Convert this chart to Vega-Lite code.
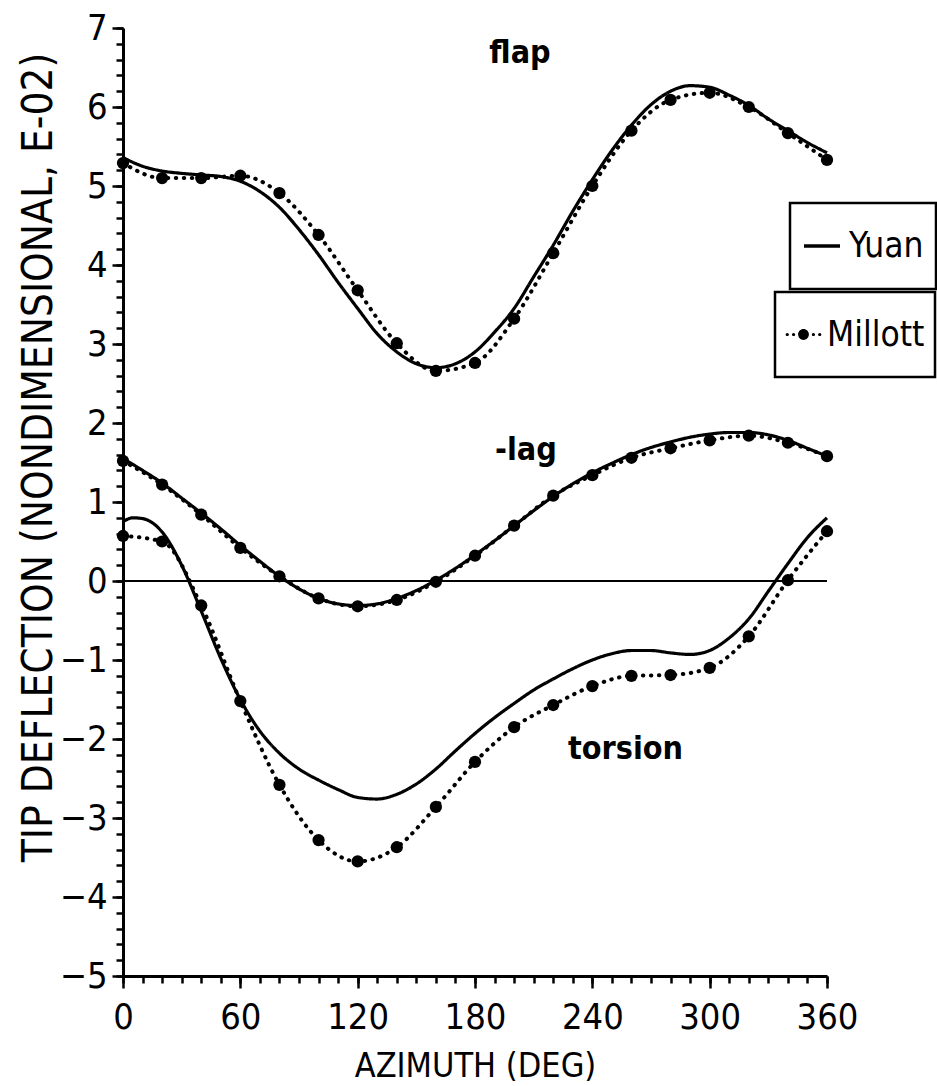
{
  "$schema": "https://vega.github.io/schema/vega-lite/v6.json",
  "width": 704,
  "height": 948,
  "autosize": "none",
  "padding": {"left": 123, "top": 28, "right": 110, "bottom": 110},
  "background": "white",
  "config": {
    "view": {"stroke": null},
    "font": "DejaVu Sans Condensed, Liberation Sans, sans-serif",
    "axis": {
      "grid": false,
      "domainColor": "black",
      "domainWidth": 3,
      "tickColor": "black",
      "tickWidth": 2.5,
      "labelColor": "black",
      "titleColor": "black",
      "labelFont": "DejaVu Sans Condensed, Liberation Sans, sans-serif",
      "titleFont": "DejaVu Sans Condensed, Liberation Sans, sans-serif",
      "labelFontSize": 36,
      "titleFontSize": 34,
      "titleFontWeight": "normal"
    },
    "legend": {
      "labelFont": "DejaVu Sans Condensed, Liberation Sans, sans-serif",
      "labelColor": "black",
      "labelFontSize": 35
    }
  },
  "datasets": {
    "curves": [
      {"s":"Yuan","c":"flap","az":0,"v":5.36},{"s":"Yuan","c":"flap","az":10,"v":5.25},{"s":"Yuan","c":"flap","az":20,"v":5.19},{"s":"Yuan","c":"flap","az":30,"v":5.16},{"s":"Yuan","c":"flap","az":40,"v":5.14},{"s":"Yuan","c":"flap","az":50,"v":5.12},{"s":"Yuan","c":"flap","az":60,"v":5.06},{"s":"Yuan","c":"flap","az":70,"v":4.93},{"s":"Yuan","c":"flap","az":80,"v":4.73},{"s":"Yuan","c":"flap","az":90,"v":4.45},{"s":"Yuan","c":"flap","az":100,"v":4.13},{"s":"Yuan","c":"flap","az":110,"v":3.78},{"s":"Yuan","c":"flap","az":120,"v":3.45},{"s":"Yuan","c":"flap","az":130,"v":3.13},{"s":"Yuan","c":"flap","az":140,"v":2.9},{"s":"Yuan","c":"flap","az":150,"v":2.75},{"s":"Yuan","c":"flap","az":160,"v":2.7},{"s":"Yuan","c":"flap","az":170,"v":2.75},{"s":"Yuan","c":"flap","az":180,"v":2.9},{"s":"Yuan","c":"flap","az":190,"v":3.15},{"s":"Yuan","c":"flap","az":200,"v":3.45},{"s":"Yuan","c":"flap","az":210,"v":3.85},{"s":"Yuan","c":"flap","az":220,"v":4.25},{"s":"Yuan","c":"flap","az":230,"v":4.68},{"s":"Yuan","c":"flap","az":240,"v":5.08},{"s":"Yuan","c":"flap","az":250,"v":5.45},{"s":"Yuan","c":"flap","az":260,"v":5.77},{"s":"Yuan","c":"flap","az":270,"v":6.03},{"s":"Yuan","c":"flap","az":280,"v":6.2},{"s":"Yuan","c":"flap","az":290,"v":6.27},{"s":"Yuan","c":"flap","az":300,"v":6.25},{"s":"Yuan","c":"flap","az":310,"v":6.15},{"s":"Yuan","c":"flap","az":320,"v":6.02},{"s":"Yuan","c":"flap","az":330,"v":5.85},{"s":"Yuan","c":"flap","az":340,"v":5.7},{"s":"Yuan","c":"flap","az":350,"v":5.55},{"s":"Yuan","c":"flap","az":360,"v":5.42},
      {"s":"Yuan","c":"lag","az":0,"v":1.55},{"s":"Yuan","c":"lag","az":10,"v":1.4},{"s":"Yuan","c":"lag","az":20,"v":1.24},{"s":"Yuan","c":"lag","az":30,"v":1.05},{"s":"Yuan","c":"lag","az":40,"v":0.86},{"s":"Yuan","c":"lag","az":50,"v":0.66},{"s":"Yuan","c":"lag","az":60,"v":0.45},{"s":"Yuan","c":"lag","az":70,"v":0.25},{"s":"Yuan","c":"lag","az":80,"v":0.06},{"s":"Yuan","c":"lag","az":90,"v":-0.1},{"s":"Yuan","c":"lag","az":100,"v":-0.22},{"s":"Yuan","c":"lag","az":110,"v":-0.29},{"s":"Yuan","c":"lag","az":120,"v":-0.31},{"s":"Yuan","c":"lag","az":130,"v":-0.29},{"s":"Yuan","c":"lag","az":140,"v":-0.22},{"s":"Yuan","c":"lag","az":150,"v":-0.12},{"s":"Yuan","c":"lag","az":160,"v":0.01},{"s":"Yuan","c":"lag","az":170,"v":0.16},{"s":"Yuan","c":"lag","az":180,"v":0.33},{"s":"Yuan","c":"lag","az":190,"v":0.51},{"s":"Yuan","c":"lag","az":200,"v":0.7},{"s":"Yuan","c":"lag","az":210,"v":0.89},{"s":"Yuan","c":"lag","az":220,"v":1.07},{"s":"Yuan","c":"lag","az":230,"v":1.23},{"s":"Yuan","c":"lag","az":240,"v":1.37},{"s":"Yuan","c":"lag","az":250,"v":1.49},{"s":"Yuan","c":"lag","az":260,"v":1.6},{"s":"Yuan","c":"lag","az":270,"v":1.69},{"s":"Yuan","c":"lag","az":280,"v":1.76},{"s":"Yuan","c":"lag","az":290,"v":1.82},{"s":"Yuan","c":"lag","az":300,"v":1.86},{"s":"Yuan","c":"lag","az":310,"v":1.88},{"s":"Yuan","c":"lag","az":320,"v":1.88},{"s":"Yuan","c":"lag","az":330,"v":1.85},{"s":"Yuan","c":"lag","az":340,"v":1.78},{"s":"Yuan","c":"lag","az":350,"v":1.68},{"s":"Yuan","c":"lag","az":360,"v":1.58},
      {"s":"Yuan","c":"torsion","az":0,"v":0.75},{"s":"Yuan","c":"torsion","az":5,"v":0.8},{"s":"Yuan","c":"torsion","az":10,"v":0.79},{"s":"Yuan","c":"torsion","az":20,"v":0.62},{"s":"Yuan","c":"torsion","az":30,"v":0.2},{"s":"Yuan","c":"torsion","az":40,"v":-0.38},{"s":"Yuan","c":"torsion","az":50,"v":-0.98},{"s":"Yuan","c":"torsion","az":60,"v":-1.5},{"s":"Yuan","c":"torsion","az":70,"v":-1.9},{"s":"Yuan","c":"torsion","az":80,"v":-2.18},{"s":"Yuan","c":"torsion","az":90,"v":-2.38},{"s":"Yuan","c":"torsion","az":100,"v":-2.52},{"s":"Yuan","c":"torsion","az":110,"v":-2.64},{"s":"Yuan","c":"torsion","az":120,"v":-2.74},{"s":"Yuan","c":"torsion","az":130,"v":-2.76},{"s":"Yuan","c":"torsion","az":140,"v":-2.7},{"s":"Yuan","c":"torsion","az":150,"v":-2.57},{"s":"Yuan","c":"torsion","az":160,"v":-2.38},{"s":"Yuan","c":"torsion","az":170,"v":-2.15},{"s":"Yuan","c":"torsion","az":180,"v":-1.93},{"s":"Yuan","c":"torsion","az":190,"v":-1.73},{"s":"Yuan","c":"torsion","az":200,"v":-1.55},{"s":"Yuan","c":"torsion","az":210,"v":-1.38},{"s":"Yuan","c":"torsion","az":220,"v":-1.24},{"s":"Yuan","c":"torsion","az":230,"v":-1.11},{"s":"Yuan","c":"torsion","az":240,"v":-1.0},{"s":"Yuan","c":"torsion","az":250,"v":-0.92},{"s":"Yuan","c":"torsion","az":260,"v":-0.88},{"s":"Yuan","c":"torsion","az":270,"v":-0.88},{"s":"Yuan","c":"torsion","az":280,"v":-0.91},{"s":"Yuan","c":"torsion","az":290,"v":-0.93},{"s":"Yuan","c":"torsion","az":300,"v":-0.88},{"s":"Yuan","c":"torsion","az":310,"v":-0.72},{"s":"Yuan","c":"torsion","az":320,"v":-0.48},{"s":"Yuan","c":"torsion","az":330,"v":-0.13},{"s":"Yuan","c":"torsion","az":340,"v":0.22},{"s":"Yuan","c":"torsion","az":350,"v":0.55},{"s":"Yuan","c":"torsion","az":360,"v":0.8},
      {"s":"Millott","c":"flap","az":0,"v":5.29},{"s":"Millott","c":"flap","az":20,"v":5.1},{"s":"Millott","c":"flap","az":40,"v":5.1},{"s":"Millott","c":"flap","az":60,"v":5.13},{"s":"Millott","c":"flap","az":80,"v":4.91},{"s":"Millott","c":"flap","az":100,"v":4.38},{"s":"Millott","c":"flap","az":120,"v":3.68},{"s":"Millott","c":"flap","az":140,"v":3.01},{"s":"Millott","c":"flap","az":160,"v":2.66},{"s":"Millott","c":"flap","az":180,"v":2.76},{"s":"Millott","c":"flap","az":200,"v":3.32},{"s":"Millott","c":"flap","az":220,"v":4.15},{"s":"Millott","c":"flap","az":240,"v":5.0},{"s":"Millott","c":"flap","az":260,"v":5.7},{"s":"Millott","c":"flap","az":280,"v":6.09},{"s":"Millott","c":"flap","az":300,"v":6.18},{"s":"Millott","c":"flap","az":320,"v":6.0},{"s":"Millott","c":"flap","az":340,"v":5.67},{"s":"Millott","c":"flap","az":360,"v":5.33},
      {"s":"Millott","c":"lag","az":0,"v":1.52},{"s":"Millott","c":"lag","az":20,"v":1.22},{"s":"Millott","c":"lag","az":40,"v":0.84},{"s":"Millott","c":"lag","az":60,"v":0.42},{"s":"Millott","c":"lag","az":80,"v":0.06},{"s":"Millott","c":"lag","az":100,"v":-0.22},{"s":"Millott","c":"lag","az":120,"v":-0.32},{"s":"Millott","c":"lag","az":140,"v":-0.24},{"s":"Millott","c":"lag","az":160,"v":-0.01},{"s":"Millott","c":"lag","az":180,"v":0.32},{"s":"Millott","c":"lag","az":200,"v":0.7},{"s":"Millott","c":"lag","az":220,"v":1.08},{"s":"Millott","c":"lag","az":240,"v":1.34},{"s":"Millott","c":"lag","az":260,"v":1.56},{"s":"Millott","c":"lag","az":280,"v":1.68},{"s":"Millott","c":"lag","az":300,"v":1.78},{"s":"Millott","c":"lag","az":320,"v":1.84},{"s":"Millott","c":"lag","az":340,"v":1.75},{"s":"Millott","c":"lag","az":360,"v":1.58},
      {"s":"Millott","c":"torsion","az":0,"v":0.57},{"s":"Millott","c":"torsion","az":20,"v":0.5},{"s":"Millott","c":"torsion","az":40,"v":-0.31},{"s":"Millott","c":"torsion","az":60,"v":-1.52},{"s":"Millott","c":"torsion","az":80,"v":-2.58},{"s":"Millott","c":"torsion","az":100,"v":-3.28},{"s":"Millott","c":"torsion","az":120,"v":-3.55},{"s":"Millott","c":"torsion","az":140,"v":-3.37},{"s":"Millott","c":"torsion","az":160,"v":-2.86},{"s":"Millott","c":"torsion","az":180,"v":-2.29},{"s":"Millott","c":"torsion","az":200,"v":-1.85},{"s":"Millott","c":"torsion","az":220,"v":-1.57},{"s":"Millott","c":"torsion","az":240,"v":-1.33},{"s":"Millott","c":"torsion","az":260,"v":-1.2},{"s":"Millott","c":"torsion","az":280,"v":-1.19},{"s":"Millott","c":"torsion","az":300,"v":-1.1},{"s":"Millott","c":"torsion","az":320,"v":-0.7},{"s":"Millott","c":"torsion","az":340,"v":0.01},{"s":"Millott","c":"torsion","az":360,"v":0.63}
    ],
    "zero": [{"a": 0, "b": 360, "v": 0}],
    "labels": [
      {"t": "flap", "az": 203, "v": 6.68},
      {"t": "-lag", "az": 206, "v": 1.66},
      {"t": "torsion", "az": 257, "v": -2.13}
    ]
  },
  "layer": [
    {
      "data": {"name": "zero"},
      "mark": {"type": "rule", "color": "black", "strokeWidth": 2},
      "encoding": {
        "x": {"field": "a", "type": "quantitative", "scale": {"domain": [0, 360], "nice": false},
          "axis": {"orient": "bottom", "values": [0,10,20,30,40,50,60,70,80,90,100,110,120,130,140,150,160,170,180,190,200,210,220,230,240,250,260,270,280,290,300,310,320,330,340,350,360], "labels": false, "tickSize": 7, "title": null, "domain": false}},
        "x2": {"field": "b"},
        "y": {"field": "v", "type": "quantitative", "scale": {"domain": [-5, 7], "nice": false, "zero": false},
          "axis": {"orient": "left", "values": [-5,-4.8,-4.6,-4.4,-4.2,-4,-3.8,-3.6,-3.4,-3.2,-3,-2.8,-2.6,-2.4,-2.2,-2,-1.8,-1.6,-1.4,-1.2,-1,-0.8,-0.6,-0.4,-0.2,0,0.2,0.4,0.6,0.8,1,1.2,1.4,1.6,1.8,2,2.2,2.4,2.6,2.8,3,3.2,3.4,3.6,3.8,4,4.2,4.4,4.6,4.8,5,5.2,5.4,5.6,5.8,6,6.2,6.4,6.6,6.8,7], "labels": false, "tickSize": 7, "title": null, "domain": false}}
      }
    },
    {
      "data": {"name": "curves"},
      "transform": [{"filter": "datum.s === 'Yuan'"}],
      "mark": {"type": "line", "color": "black", "strokeWidth": 3.2, "interpolate": "monotone"},
      "encoding": {
        "x": {"field": "az", "type": "quantitative",
          "axis": {"orient": "bottom", "values": [0, 60, 120, 180, 240, 300, 360], "tickSize": 12, "labelPadding": 12, "labelFlush": false, "labelOverlap": false, "title": "AZIMUTH (DEG)", "titleFontSize": 34, "titleY": 100, "titleBaseline": "alphabetic"}},
        "y": {"field": "v", "type": "quantitative",
          "axis": {"orient": "left", "values": [-5,-4,-3,-2,-1,0,1,2,3,4,5,6,7], "tickSize": 11, "labelPadding": 5, "labelFlush": false, "labelOverlap": false, "title": "TIP DEFLECTION (NONDIMENSIONAL, E-02)", "titleFontSize": 42, "titleX": -85, "titleY": 429, "titleAngle": 270, "titleAlign": "center", "titleBaseline": "middle"}},
        "detail": {"field": "c"},
        "strokeDash": {"field": "s", "type": "nominal", "scale": {"domain": ["Yuan"], "range": [[1, 0]]},
          "legend": {"orient": "none", "legendX": 667, "legendY": 175, "title": null, "strokeColor": "black", "padding": 12, "clipHeight": 62, "symbolType": "stroke", "symbolSize": 1300, "symbolStrokeWidth": 3.5, "symbolStrokeColor": "black", "labelOffset": 7,
            "encode": {"legend": {"update": {"strokeWidth": {"value": 2.5}}}}}}
      }
    },
    {
      "data": {"name": "curves"},
      "transform": [{"filter": "datum.s === 'Millott'"}],
      "mark": {"type": "line", "color": "black", "strokeWidth": 4, "strokeDash": [0.5, 7.5], "strokeCap": "round", "interpolate": "monotone"},
      "encoding": {
        "x": {"field": "az", "type": "quantitative", "axis": null},
        "y": {"field": "v", "type": "quantitative", "axis": null},
        "detail": {"field": "c"}
      }
    },
    {
      "data": {"name": "curves"},
      "transform": [{"filter": "datum.s === 'Millott'"}],
      "mark": {"type": "point", "filled": true, "shape": "circle", "size": 150, "opacity": 1},
      "encoding": {
        "x": {"field": "az", "type": "quantitative", "axis": null},
        "y": {"field": "v", "type": "quantitative", "axis": null},
        "fill": {"field": "s", "type": "nominal", "scale": {"domain": ["Millott"], "range": ["black"]},
          "legend": {"orient": "none", "legendX": 652, "legendY": 264, "title": null, "strokeColor": "black", "padding": 10, "clipHeight": 65, "symbolSize": 1300, "symbolType": "M0.3,0A0.3,0.3,0,1,1,-0.3,0A0.3,0.3,0,1,1,0.3,0Z M-0.46,0A0.09,0.09,0,1,1,-0.64,0A0.09,0.09,0,1,1,-0.46,0Z M-0.81,0A0.09,0.09,0,1,1,-0.99,0A0.09,0.09,0,1,1,-0.81,0Z M0.64,0A0.09,0.09,0,1,1,0.46,0A0.09,0.09,0,1,1,0.64,0Z M0.99,0A0.09,0.09,0,1,1,0.81,0A0.09,0.09,0,1,1,0.99,0Z", "symbolFillColor": "black", "symbolStrokeWidth": 0, "symbolOpacity": 1, "labelOffset": 5,
            "encode": {"legend": {"update": {"strokeWidth": {"value": 2.5}}}}}}
      }
    },
    {
      "data": {"name": "labels"},
      "mark": {"type": "text", "font": "DejaVu Sans Condensed, Liberation Sans, sans-serif", "fontWeight": "bold", "fontSize": 32, "color": "black", "align": "center", "baseline": "middle"},
      "encoding": {
        "x": {"field": "az", "type": "quantitative", "axis": null},
        "y": {"field": "v", "type": "quantitative", "axis": null},
        "text": {"field": "t"}
      }
    }
  ],
  "resolve": {"axis": {"x": "independent", "y": "independent"}}
}
